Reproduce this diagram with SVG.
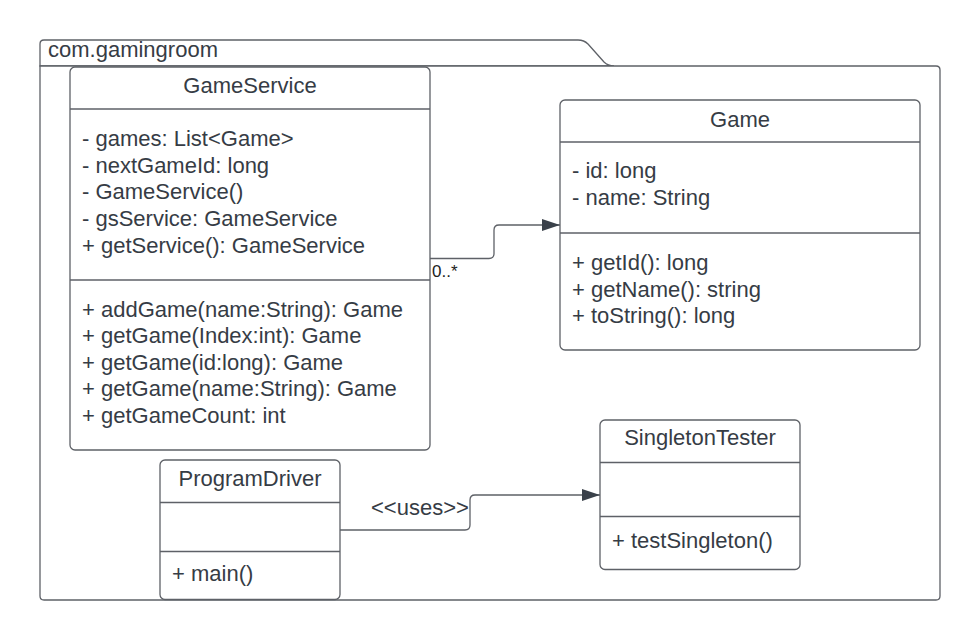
<svg xmlns="http://www.w3.org/2000/svg" width="980" height="640" viewBox="0 0 980 640">
  <defs>
    <style>
      text { font-family: "Liberation Sans", Arial, sans-serif; font-size: 22px; fill: #363c45; }
      .box { fill: #ffffff; stroke: #5e6167; stroke-width: 1.3; }
      .div { stroke: #5e6167; stroke-width: 1.3; fill: none; }
      .title { text-anchor: middle; }
      .conn { fill: none; stroke: #5e6167; stroke-width: 1.3; }
      .small { font-size: 17px; fill: #222; }
    </style>
    <marker id="arrow" viewBox="0 0 18 12" refX="18" refY="6" markerWidth="18" markerHeight="12" markerUnits="userSpaceOnUse" orient="auto">
      <path d="M0,0 L18,6 L0,12 Z" fill="#3a414a"/>
    </marker>
  </defs>
  <rect width="980" height="640" fill="#ffffff"/>

  <g id="package">
    <path class="box" d="M40,66 L40,44 Q40,40 44,40 L578,40 Q584,40 588,44 L604,62 Q608,66 614,66 Z"/>
    <path class="box" d="M40,66 L936,66 Q940,66 940,70 L940,596 Q940,600 936,600 L44,600 Q40,600 40,596 Z"/>
    <text x="48" y="57">com.gamingroom</text>
  </g>

  <g id="connectors">
    <path class="conn" d="M430,258.5 L489,258.5 Q494,258.5 494,253.5 L494,230 Q494,225 499,225 L560,225" marker-end="url(#arrow)"/>
    <text class="small" x="432" y="277">0..*</text>
    <path class="conn" d="M340,530 L465,530 Q470,530 470,525 L470,500 Q470,495 475,495 L600,495" marker-end="url(#arrow)"/>
    <text x="371" y="515">&lt;&lt;uses&gt;&gt;</text>
  </g>

  <g id="GameService">
    <rect class="box" x="70" y="67" width="360" height="383" rx="5"/>
    <line class="div" x1="70" y1="109" x2="430" y2="109"/>
    <line class="div" x1="70" y1="280" x2="430" y2="280"/>
    <text class="title" x="250" y="93">GameService</text>
    <text x="82" y="146">- games: List&lt;Game&gt;</text>
    <text x="82" y="172.7">- nextGameId: long</text>
    <text x="82" y="199.4">- GameService()</text>
    <text x="82" y="226.1">- gsService: GameService</text>
    <text x="82" y="252.8">+ getService(): GameService</text>
    <text x="82" y="316.5">+ addGame(name:String): Game</text>
    <text x="82" y="343">+ getGame(Index:int): Game</text>
    <text x="82" y="369.5">+ getGame(id:long): Game</text>
    <text x="82" y="396">+ getGame(name:String): Game</text>
    <text x="82" y="422.5">+ getGameCount: int</text>
  </g>

  <g id="Game">
    <rect class="box" x="560" y="100" width="360" height="250" rx="5"/>
    <line class="div" x1="560" y1="142" x2="920" y2="142"/>
    <line class="div" x1="560" y1="233" x2="920" y2="233"/>
    <text class="title" x="740" y="127">Game</text>
    <text x="572" y="178">- id: long</text>
    <text x="572" y="204.7">- name: String</text>
    <text x="572" y="270">+ getId(): long</text>
    <text x="572" y="296.7">+ getName(): string</text>
    <text x="572" y="323.3">+ toString(): long</text>
  </g>

  <g id="SingletonTester">
    <rect class="box" x="600" y="420" width="200" height="149.5" rx="5"/>
    <line class="div" x1="600" y1="462.5" x2="800" y2="462.5"/>
    <line class="div" x1="600" y1="516.5" x2="800" y2="516.5"/>
    <text class="title" x="700" y="445">SingletonTester</text>
    <text x="612" y="548">+ testSingleton()</text>
  </g>

  <g id="ProgramDriver">
    <rect class="box" x="160" y="460" width="180" height="139.5" rx="5"/>
    <line class="div" x1="160" y1="502.5" x2="340" y2="502.5"/>
    <line class="div" x1="160" y1="551.5" x2="340" y2="551.5"/>
    <text class="title" x="250" y="486">ProgramDriver</text>
    <text x="172" y="581">+ main()</text>
  </g>
</svg>
